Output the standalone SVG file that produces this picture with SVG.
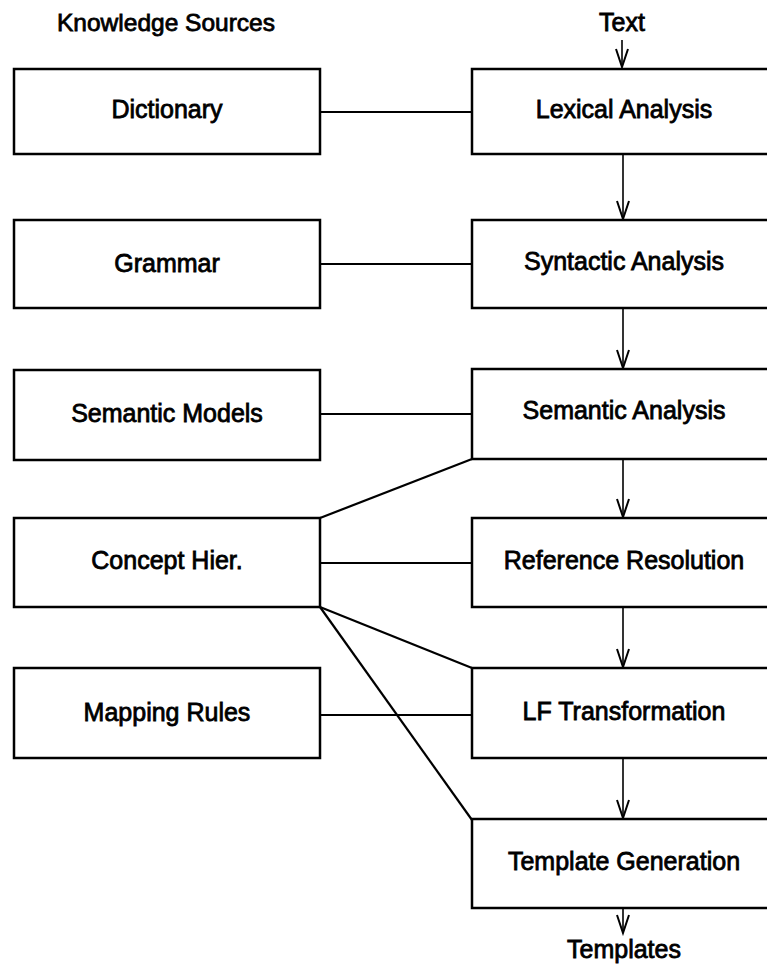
<svg xmlns="http://www.w3.org/2000/svg" width="767" height="965" viewBox="0 0 767 965">
<style>
.box{fill:#fff;stroke:#000;stroke-width:2.5}
.lbl{font-family:"Liberation Sans",Arial,sans-serif;font-size:25px;fill:#000;stroke:#000;stroke-width:0.8;text-anchor:middle}
.ln{stroke:#000;stroke-width:2.2;fill:none}
.ar{stroke:#000;stroke-width:1.6;fill:none}
</style>
<defs>
<marker id="v" markerUnits="userSpaceOnUse" markerWidth="22" markerHeight="16" refX="19" refY="8" orient="auto" viewBox="0 0 22 16">
<path d="M1,2 L19,8 L1,14" fill="none" stroke="#000" stroke-width="2"/>
</marker>
</defs>
<rect width="767" height="965" fill="#fff"/>
<text class="lbl" x="166" y="31" style="font-size:24.5px">Knowledge Sources</text>
<text class="lbl" x="622" y="31">Text</text>
<text class="lbl" x="624" y="958">Templates</text>
<g id="connectors">
<path class="ar" d="M622,40 V67" marker-end="url(#v)"/>
<path class="ar" d="M623,154 V219" marker-end="url(#v)"/>
<path class="ar" d="M623,308 V368" marker-end="url(#v)"/>
<path class="ar" d="M623,460 V517" marker-end="url(#v)"/>
<path class="ar" d="M623,608 V667" marker-end="url(#v)"/>
<path class="ar" d="M623,759 V818" marker-end="url(#v)"/>
<path class="ar" d="M623,909 V933" marker-end="url(#v)"/>
<path class="ln" d="M320,112 H472"/>
<path class="ln" d="M320,264 H472"/>
<path class="ln" d="M320,414 H472"/>
<path class="ln" d="M320,563 H472"/>
<path class="ln" d="M320,715 H472"/>
<path class="ln" d="M320,518 L472,459"/>
<path class="ln" d="M320,607 L472,668"/>
<path class="ln" d="M320,607 L472,820"/>
</g>
<g id="dictionary"><rect class="box" x="14" y="69" width="306" height="85"/><text class="lbl" x="167" y="118">Dictionary</text></g>
<g id="grammar"><rect class="box" x="14" y="220" width="306" height="88"/><text class="lbl" x="167" y="272">Grammar</text></g>
<g id="semantic-models"><rect class="box" x="14" y="370" width="306" height="90"/><text class="lbl" x="167" y="422">Semantic Models</text></g>
<g id="concept-hier"><rect class="box" x="14" y="518" width="306" height="89"/><text class="lbl" x="167" y="569">Concept Hier.</text></g>
<g id="mapping-rules"><rect class="box" x="14" y="668" width="306" height="90"/><text class="lbl" x="167" y="721">Mapping Rules</text></g>
<g id="lexical-analysis"><rect class="box" x="472" y="69" width="306" height="85"/><text class="lbl" x="624" y="118">Lexical Analysis</text></g>
<g id="syntactic-analysis"><rect class="box" x="472" y="220" width="306" height="88"/><text class="lbl" x="624" y="270">Syntactic Analysis</text></g>
<g id="semantic-analysis"><rect class="box" x="472" y="369" width="306" height="90"/><text class="lbl" x="624" y="419">Semantic Analysis</text></g>
<g id="reference-resolution"><rect class="box" x="472" y="518" width="306" height="89"/><text class="lbl" x="624" y="569">Reference Resolution</text></g>
<g id="lf-transformation"><rect class="box" x="472" y="668" width="306" height="90"/><text class="lbl" x="624" y="720">LF Transformation</text></g>
<g id="template-generation"><rect class="box" x="472" y="819" width="306" height="89"/><text class="lbl" x="624" y="870">Template Generation</text></g>
</svg>
